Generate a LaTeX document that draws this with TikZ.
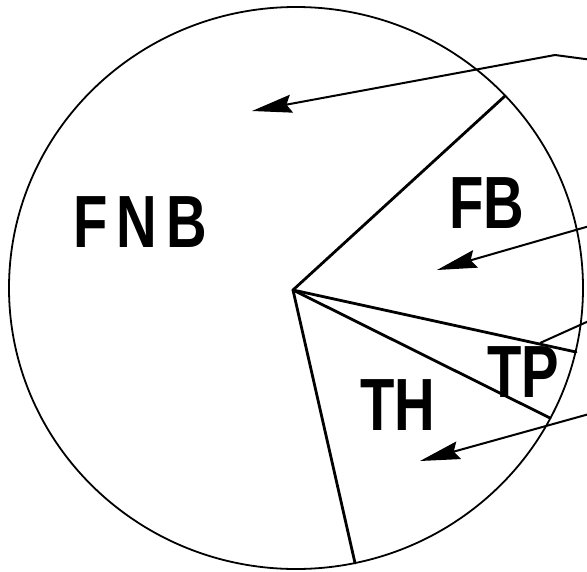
\documentclass[tikz,border=0pt]{standalone}
\usepackage{fontspec}
\newfontfamily\labelfont[FakeStretch=0.76]{Liberation Sans}
\usetikzlibrary{arrows.meta}
\tikzset{
  every picture/.style={x=1pt, y=-1pt},
  rim/.style={draw=black, line width=1.8pt},
  cut/.style={draw=black, line width=2.8pt, line cap=round},
  pointer/.style={-{Stealth[length=40pt, width=18pt, inset=5pt]}, draw=black, line width=2pt},
  sector/.style={font=\labelfont\bfseries\fontsize{74}{74}\selectfont, anchor=base, inner sep=0pt},
}

\begin{document}
\begin{tikzpicture}
  \useasboundingbox (0,0) rectangle (587,571);
  % circle and hub
  \coordinate (hub) at (293,290);
  \draw[rim] (296,288) ellipse [x radius=287, y radius=281];
  \coordinate (rimFB) at (505,96);
  \coordinate (rimTPa) at (576,352);
  \coordinate (rimTPb) at (550,418);
  \coordinate (rimTH) at (355,563);
  \draw[cut] (hub) -- (rimFB);
  \draw[cut] (hub) -- (rimTPa);
  \draw[cut] (hub) -- (rimTPb);
  \draw[cut] (hub) -- (rimTH);
  % labels
  \node[sector] (fnb) at (140,247) {F\kern9pt N\kern9pt B};
  \node[sector] (fb) at (487,228) {FB};
  \node[sector] (tp) at (523,397) {TP};
  \node[sector] (th) at (398,430) {TH};
  % pointers from the right
  \coordinate (inFNB) at (600,61);
  \coordinate (kink) at (555,55);
  \coordinate (tipFNB) at (252,111);
  \coordinate (inFB) at (600,223);
  \coordinate (tipFB) at (437,270);
  \coordinate (inTP) at (600,316);
  \coordinate (endTP) at (540,343);
  \coordinate (inTH) at (600,411);
  \coordinate (tipTH) at (420,461);
  \draw[pointer] (inFNB) -- (kink) -- (tipFNB);
  \draw[pointer] (inFB) -- (tipFB);
  \draw[line width=2pt] (inTP) -- (endTP);
  \draw[pointer] (inTH) -- (tipTH);
\end{tikzpicture}
\end{document}
